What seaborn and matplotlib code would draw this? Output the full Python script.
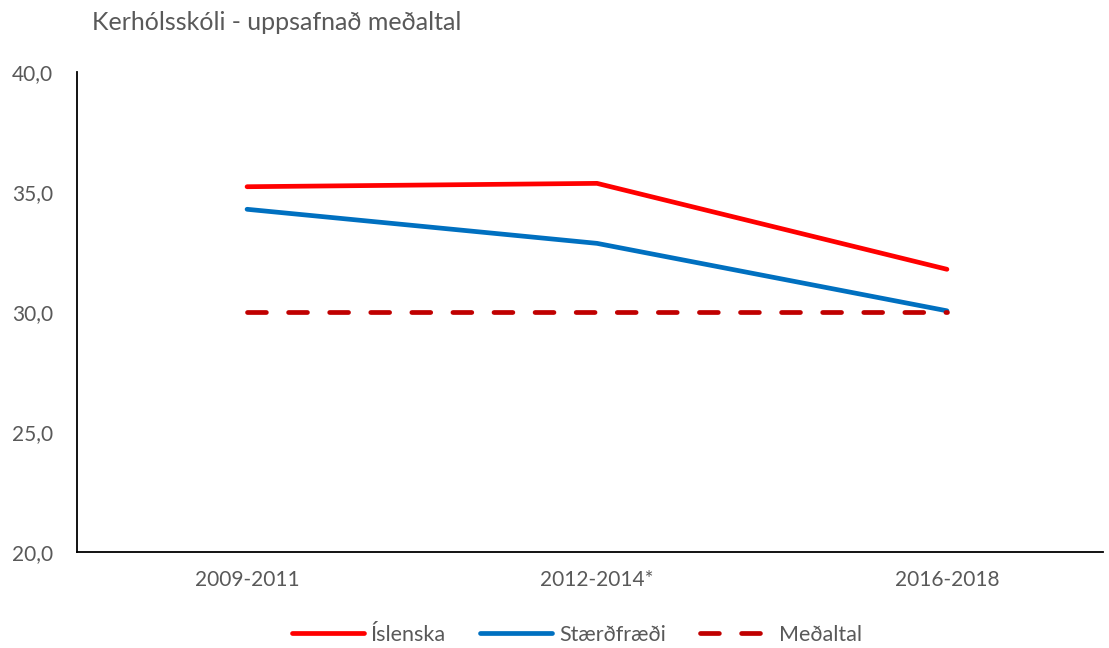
import pandas as pd
import matplotlib.pyplot as plt
import seaborn as sns
from matplotlib.ticker import FuncFormatter

# Data
periods = ["2009-2011", "2012-2014*", "2016-2018"]
islenska = [35.22, 35.36, 31.78]
staerdfraedi = [34.28, 32.86, 30.05]
medaltal = [30.0, 30.0, 30.0]

series_names = ["Íslenska", "Stærðfræði", "Meðaltal"]
palette = {"Íslenska": "#FF0000", "Stærðfræði": "#0070C0", "Meðaltal": "#C00000"}
dashes = {"Íslenska": "", "Stærðfræði": "", "Meðaltal": (4.0, 4.7)}

# Build long format for seaborn
rows = []
for name, vals in zip(series_names, [islenska, staerdfraedi, medaltal]):
    for i, (p, v) in enumerate(zip(periods, vals)):
        rows.append({"pos": i, "period": p, "value": v, "series": name})
df = pd.DataFrame(rows)

sns.set_theme(style="white")
plt.rcParams['font.family'] = ['Lato', 'DejaVu Sans']

fig = plt.figure(figsize=(11.09, 6.48), dpi=100)
ax = fig.add_axes([77 / 1109, 1 - 552 / 648, (1103 - 77) / 1109, (552 - 72) / 648])

sns.lineplot(
    data=df, x="pos", y="value", hue="series", style="series",
    hue_order=series_names, style_order=series_names,
    palette=palette, dashes=dashes, linewidth=3.4, ax=ax,
)
for line in ax.lines:
    line.set_solid_capstyle("round")
    line.set_dash_capstyle("round")

grey = "#595959"
ax.set_ylim(20, 40)
ax.set_yticks([20, 25, 30, 35, 40])
ax.yaxis.set_major_formatter(FuncFormatter(lambda v, _: f"{v:.1f}".replace(".", ",")))
ax.set_xlim(-0.486, 2.446)
ax.set_xticks(range(len(periods)))
ax.set_xticklabels(periods)
ax.tick_params(axis="both", length=0, labelsize=15, colors=grey)
ax.tick_params(axis="y", pad=17)
ax.tick_params(axis="x", pad=13)
ax.set_xlabel("")
ax.set_ylabel("")

for side in ["top", "right"]:
    ax.spines[side].set_visible(False)
for side in ["left", "bottom"]:
    ax.spines[side].set_color("black")
    ax.spines[side].set_linewidth(1.3)

fig.text(92 / 1109, 1 - 22 / 648, "Kerhólsskóli - uppsafnað meðaltal",
         fontsize=18, color=grey, ha="left", va="center")

handles, labels = ax.get_legend_handles_labels()
ax.legend(handles, labels, loc="center", bbox_to_anchor=(577 / 1109, 1 - 635 / 648),
          bbox_transform=fig.transFigure, ncol=3, frameon=False, fontsize=15.5,
          handlelength=3.35, handletextpad=0.3, columnspacing=1.6, labelcolor=grey)

fig.savefig("out.png", dpi=100)
